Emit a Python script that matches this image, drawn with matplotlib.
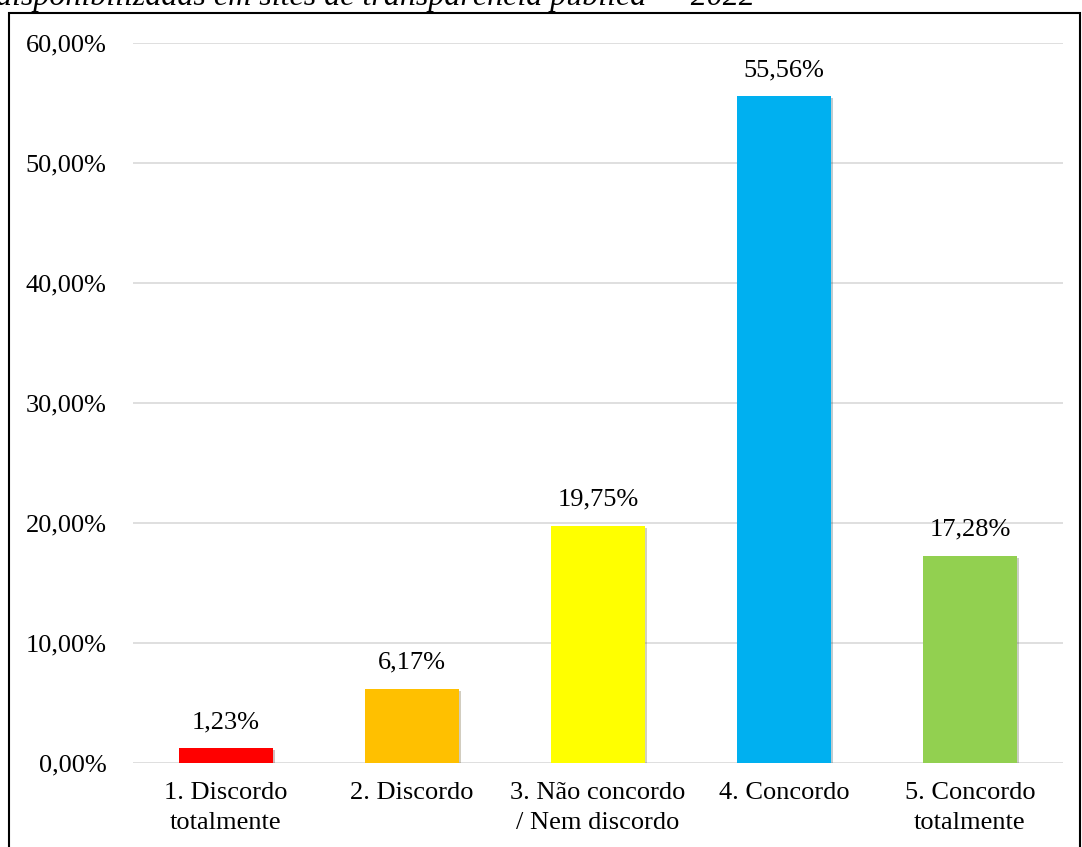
import matplotlib.pyplot as plt
import matplotlib.patheffects as pe
from matplotlib.patches import Rectangle
from matplotlib.ticker import FuncFormatter

categories = ["1. Discordo\ntotalmente", "2. Discordo", "3. Não concordo\n/ Nem discordo",
              "4. Concordo", "5. Concordo\ntotalmente"]
values = [1.23, 6.17, 19.75, 55.56, 17.28]
colors = ["#FF0000", "#FFC000", "#FFFF00", "#00B0F0", "#92D050"]
yticks = [0, 10, 20, 30, 40, 50, 60]

W, H = 1082, 847
plt.rcParams['font.family'] = ['Liberation Serif', 'DejaVu Serif']

fig = plt.figure(figsize=(W / 100, H / 100), dpi=100)
ax = fig.add_axes([133 / W, 1 - 763 / H, 930 / W, 720 / H])

x = range(len(values))
bars = ax.bar(x, values, width=0.505, color=colors, zorder=3)
for b in bars:
    b.set_path_effects([pe.SimplePatchShadow(offset=(1.5, -1.5), alpha=0.25), pe.Normal()])

for xi, v in zip(x, values):
    ax.annotate(f"{v:.2f}%".replace(".", ","), (xi, v), xytext=(0, 11),
                textcoords="offset points", ha="center", va="bottom", fontsize=19)

ax.set_xlim(-0.5, len(values) - 0.5)
ax.set_ylim(0, 60)
ax.set_yticks(yticks)
ax.yaxis.set_major_formatter(FuncFormatter(lambda v, p: f"{v:.2f}%".replace(".", ",")))
ax.set_xticks(list(x))
ax.set_xticklabels(categories, fontsize=19, linespacing=1.45)
ax.tick_params(axis="y", labelsize=19, length=0, pad=19)
ax.tick_params(axis="x", length=0, pad=14)
ax.grid(axis="y", color="#D9D9D9", linewidth=1.2, zorder=0)
for s in ax.spines.values():
    s.set_visible(False)

# outer frame (bottom is cropped off in the source)
fig.patches.append(Rectangle((9 / W, -0.05), (1080 - 9) / W, 1.05 - 13 / H,
                             transform=fig.transFigure, fill=False,
                             edgecolor="black", linewidth=1.5))

fig.text(-4 / W, 1 - 5 / H, "disponibilizadas em sites de transparência pública — 2022",
         fontsize=23, style="italic", ha="left", va="baseline")

fig.savefig("out.png", dpi=100)
